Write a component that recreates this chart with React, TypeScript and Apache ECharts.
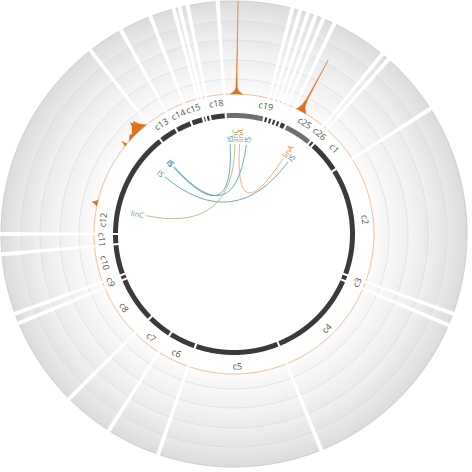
import React, { useEffect, useRef } from 'react';
import * as echarts from 'echarts';

// ---- data ----
const chromNames = ['c1','c2','c3','c4','c5','c6','c7','c8','c9','c10','c11','c12','c13','c14','c15','c16','c17','c18','c19','c20','c21','c22','c23','c24','c25','c26'];
const chromSizes = [15, 51.5, 2, 44, 40, 12.5, 11.5, 21.5, 1.5, 14, 4, 51, 8, 7, 5, 0.5, 1, 6.5, 17.5, 1, 1, 1, 1, 2, 13, 1];
const chromShade = ['d','d','d','d','d','d','d','d','d','d','d','d','d','d','d','d','d','d','l','d','d','d','d','d','l','d'];
const chromShowLabel = [1,1,1,1,1,1,1,1,1,1,1,1,1,1,1,0,0,1,1,0,0,0,0,0,1,1];
const labelFrac = [0.5,0.5,0.5,0.5,0.5,0.5,0.5,0.5,0.5,0.5,0.5,0.11,0.5,0.5,0.5,0.5,0.5,0.5,1.0,0.5,0.5,0.5,0.5,0.5,0.5,0.5];
const GAP = 1;

// histogram peaks (percent of track height)
const peakChrom = ['c12', 'c12', 'c12', 'c19', 'c25'];
const peakPos = [
  [11, 11.8, 12.3, 12.8, 13.6],
  [38.4, 39.1, 39.7],
  [41, 42, 43, 44, 45, 46, 46.6, 47.2, 47.8, 48.5, 49.3, 50, 50.8],
  [2, 3, 3.8, 4.2, 4.4, 4.5, 4.6, 4.8, 5.2, 6, 7],
  [0.5, 1.2, 1.8, 2.2, 2.45, 2.7, 3.2, 4, 5],
];
const peakVal = [
  [0, 3, 6, 3, 0],
  [0, 6, 0],
  [0, 2, 4, 3, 6, 9, 13, 10, 12, 7, 4, 2, 0],
  [0, 2, 4, 7, 25, 100, 25, 7, 4, 2, 0],
  [0, 3, 7, 14, 62, 14, 6, 3, 0],
];

// links
const linkSrcChrom = ['c12', 'c12', 'c12', 'c12', 'c19'];
const linkSrcPos = [47.3, 47.9, 39, 11.3, 7.1];
const linkDstChrom = ['c19', 'c19', 'c25', 'c19', 'c25'];
const linkDstPos = [1.1, 11.4, 10.9, 4.1, 7];
const linkLabel = ['IS', 'IS', 'IS', 'linC', 'linA'];

const linkColor: Record<string, string> = { IS: '#4f97b3', linC: '#a9b56e', linA: '#eea265' };
const labelColor: Record<string, string> = { IS: '#2f82ad', linC: '#8d9c45', linA: '#e3852e' };

function buildOption() {
  const starts: number[] = [];
  let acc = 0;
  chromSizes.forEach((s) => { starts.push(acc); acc += s + GAP; });
  const TOTAL = acc;
  const gpos = (name: string, pos: number) => starts[chromNames.indexOf(name)] + pos;

  const arcPts = (api: any, r: number, a0: number, a1: number, step = 0.25) => {
    const n = Math.max(2, Math.ceil(Math.abs(a1 - a0) / step) + 1);
    const pts: number[][] = [];
    for (let k = 0; k < n; k++) pts.push(api.coord([r, a0 + ((a1 - a0) * k) / (n - 1)]));
    return pts;
  };
  const screenDeg = (p: number[], cx: number, cy: number) => {
    const d = (Math.atan2(p[0] - cx, -(p[1] - cy)) * 180) / Math.PI;
    return ((d % 360) + 360) % 360;
  };

  const R_OUT = 233, R_IN = 140;
  const bands = [155, 174, 194, 213];
  const stopsRaw: [number, string][] = [
    [140, '#fcfcfc'], [155, '#f4f4f4'], [155.3, '#f8f8f8'], [174, '#efefef'], [174.3, '#f4f4f4'],
    [194, '#eaeaea'], [194.3, '#efefef'], [213, '#e4e4e4'], [213.3, '#e9e9e9'], [233, '#dcdcdc'],
  ];

  const chromData = chromNames.map((_, i) => [0, starts[i]]);

  return {
    animation: false,
    backgroundColor: '#ffffff',
    polar: [
      { center: [234, 234], radius: [0, 233] },
      { center: [234, 234], radius: [140, 233] },
    ],
    angleAxis: [0, 1].map((i) => ({
      polarIndex: i, type: 'value', min: 0, max: TOTAL, startAngle: 48, clockwise: true, show: false,
      axisLine: { show: false }, axisTick: { show: false }, axisLabel: { show: false }, splitLine: { show: false },
    })),
    radiusAxis: [
      { polarIndex: 0, type: 'value', min: 0, max: 233, show: false, axisLine: { show: false }, axisTick: { show: false }, axisLabel: { show: false }, splitLine: { show: false } },
      { polarIndex: 1, type: 'value', min: 0, max: 100, show: false, axisLine: { show: false }, axisTick: { show: false }, axisLabel: { show: false }, splitLine: { show: false } },
    ],
    series: [
      // background track
      {
        type: 'custom', coordinateSystem: 'polar', polarIndex: 0, silent: true, data: chromData,
        renderItem: (params: any, api: any) => {
          const i = params.dataIndex;
          const cs = params.coordSys;
          const a0 = starts[i], a1 = starts[i] + chromSizes[i];
          const grad = new echarts.graphic.RadialGradient(cs.cx, cs.cy, R_OUT,
            stopsRaw.map(([r, c]) => ({ offset: r / R_OUT, color: c })), true);
          const children: any[] = [
            { type: 'polygon', shape: { points: arcPts(api, R_OUT, a0, a1).concat(arcPts(api, R_IN, a1, a0)) }, style: { fill: grad } },
          ];
          bands.forEach((r) => children.push({ type: 'polyline', shape: { points: arcPts(api, r, a0, a1) }, style: { stroke: '#d6d6d6', lineWidth: 0.6, fill: null } }));
          children.push({ type: 'polyline', shape: { points: arcPts(api, R_OUT, a0, a1) }, style: { stroke: '#c4c4c4', lineWidth: 0.8, fill: null } });
          return { type: 'group', children };
        },
      },
      // ideogram ring
      {
        type: 'custom', coordinateSystem: 'polar', polarIndex: 0, silent: true, data: chromData,
        renderItem: (params: any, api: any) => {
          const i = params.dataIndex;
          const a0 = starts[i], a1 = starts[i] + chromSizes[i];
          return {
            type: 'polygon',
            shape: { points: arcPts(api, 121, a0, a1).concat(arcPts(api, 116, a1, a0)) },
            style: { fill: chromShade[i] === 'l' ? '#6f6f6f' : '#3a3a3a' },
          };
        },
      },
      // chromosome labels
      {
        type: 'custom', coordinateSystem: 'polar', polarIndex: 0, silent: true, data: chromData,
        renderItem: (params: any, api: any) => {
          const i = params.dataIndex;
          if (!chromShowLabel[i]) return null;
          const cs = params.coordSys;
          const a = starts[i] + chromSizes[i] * labelFrac[i];
          const p = api.coord([132, a]);
          const deg = screenDeg(p, cs.cx, cs.cy);
          let rot = -deg;
          if (deg > 90 && deg < 270) rot += 180;
          return {
            type: 'text', x: p[0], y: p[1], rotation: (rot * Math.PI) / 180,
            style: { text: chromNames[i], fill: '#555555', fontSize: 9, fontFamily: 'Open Sans', align: 'center', verticalAlign: 'middle' },
          };
        },
      },
      // histogram baseline
      {
        type: 'custom', coordinateSystem: 'polar', polarIndex: 1, silent: true, data: chromData,
        renderItem: (params: any, api: any) => {
          const i = params.dataIndex;
          const a0 = starts[i], a1 = starts[i] + chromSizes[i];
          return { type: 'polyline', shape: { points: arcPts(api, 0, a0, a1) }, style: { stroke: '#eba46c', lineWidth: 0.8, fill: null } };
        },
      },
      // histogram peaks
      {
        type: 'custom', coordinateSystem: 'polar', polarIndex: 1, silent: true,
        data: peakChrom.map((c, k) => [0, gpos(c, peakPos[k][0])]),
        renderItem: (params: any, api: any) => {
          const k = params.dataIndex;
          const c = peakChrom[k];
          const pts: number[][] = peakPos[k].map((p, j) => api.coord([peakVal[k][j], gpos(c, p)]));
          const first = gpos(c, peakPos[k][0]);
          const last = gpos(c, peakPos[k][peakPos[k].length - 1]);
          const base = arcPts(api, 0, last, first, 0.2);
          return { type: 'polygon', shape: { points: pts.concat(base) }, style: { fill: '#e2701a', stroke: '#e2701a', lineWidth: 0.4 } };
        },
      },
      // links
      {
        type: 'custom', coordinateSystem: 'polar', polarIndex: 0, silent: true,
        data: linkLabel.map((_, k) => [0, gpos(linkSrcChrom[k], linkSrcPos[k])]),
        renderItem: (params: any, api: any) => {
          const k = params.dataIndex;
          const cs = params.coordSys;
          const s = gpos(linkSrcChrom[k], linkSrcPos[k]);
          const d = gpos(linkDstChrom[k], linkDstPos[k]);
          const p1 = api.coord([90, s]);
          const p2 = api.coord([90, d]);
          const ctr = api.coord([0, s]);
          const lab = linkLabel[k];
          const mkLabel = (a: number) => {
            const p = api.coord([92, a]);
            const deg = screenDeg(p, cs.cx, cs.cy);
            let rot = 90 - deg;
            let align = 'left';
            if (deg > 180 && deg < 350) { rot += 180; align = 'right'; }
            return {
              type: 'text', x: p[0], y: p[1], rotation: (rot * Math.PI) / 180,
              style: { text: lab, fill: labelColor[lab], fontSize: 7.5, fontFamily: 'Open Sans', align, verticalAlign: 'middle' },
            };
          };
          return {
            type: 'group',
            children: [
              { type: 'bezierCurve', shape: { x1: p1[0], y1: p1[1], x2: p2[0], y2: p2[1], cpx1: ctr[0], cpy1: ctr[1] }, style: { stroke: linkColor[lab], lineWidth: 0.9, fill: null, opacity: 0.9 } },
              mkLabel(s),
              mkLabel(d),
            ],
          };
        },
      },
    ],
  };
}

export default function App() {
  const ref = useRef<HTMLDivElement>(null);
  useEffect(() => {
    const chart = echarts.init(ref.current!, undefined, { renderer: 'svg' });
    chart.setOption(buildOption() as any);
    return () => chart.dispose();
  }, []);
  return <div ref={ref} style={{ position: 'absolute', left: 0, top: 0, width: 472, height: 472, background: '#fff' }} />;
}
